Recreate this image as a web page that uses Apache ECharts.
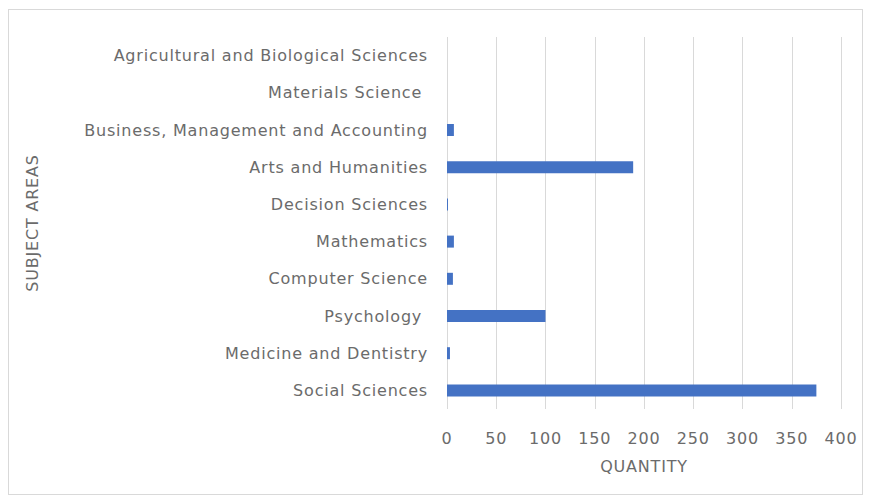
<!DOCTYPE html>
<html>
<head>
<meta charset="utf-8">
<script src="https://cdn.jsdelivr.net/npm/echarts@6/dist/echarts.min.js"></script>
<style>
  html, body { margin: 0; padding: 0; background: #ffffff; }
  #frame { position: absolute; left: 8px; top: 9px; width: 855px; height: 486px; border: 1px solid #d9d9d9; box-sizing: border-box; }
  #chart { position: absolute; left: 0; top: 0; width: 872px; height: 504px; }
  /* slightly open tracking for all axis text */
  #chart svg text { letter-spacing: 0.8px; }
</style>
</head>
<body>
<div id="frame"></div>
<div id="chart"></div>
<script>
// Subject areas, listed bottom to top as drawn on the category axis
const subjectAreas = [
  'Social Sciences',
  'Medicine and Dentistry',
  'Psychology ',
  'Computer Science',
  'Mathematics',
  'Decision Sciences',
  'Arts and Humanities',
  'Business, Management and Accounting',
  'Materials Science ',
  'Agricultural and Biological Sciences'
];
// Number of documents per subject area
const quantities = [375, 3, 100, 6, 7, 1, 189, 7, 0, 0];
const quantityTicks = { min: 0, max: 400, step: 50 };

const chart = echarts.init(document.getElementById('chart'), null, { renderer: 'svg' });
const textColor = '#6b6b6b';
const fontFamily = '"DejaVu Sans", "Open Sans", sans-serif';
const fontSize = 16;

chart.setOption({
  animation: false,
  grid: { left: 447, right: 31, top: 37, bottom: 95, containLabel: false },
  xAxis: {
    type: 'value',
    min: quantityTicks.min,
    max: quantityTicks.max,
    interval: quantityTicks.step,
    name: 'QUANTITY',
    nameLocation: 'middle',
    nameGap: 49,
    nameTextStyle: { color: textColor, fontSize, fontFamily },
    axisLine: { show: false },
    axisTick: { show: false },
    axisLabel: { color: textColor, fontSize, fontFamily, margin: 21 },
    splitLine: { show: true, lineStyle: { color: '#d9d9d9', width: 1 } }
  },
  yAxis: {
    type: 'category',
    data: subjectAreas,
    name: 'SUBJECT AREAS',
    nameLocation: 'middle',
    nameGap: 407,
    nameRotate: 90,
    nameTextStyle: { color: textColor, fontSize, fontFamily },
    axisLine: { show: false },
    axisTick: { show: false },
    axisLabel: { color: textColor, fontSize, fontFamily, margin: 19 },
    splitLine: { show: false }
  },
  series: [{
    type: 'bar',
    data: quantities,
    barWidth: 12,
    itemStyle: { color: '#4472c4' }
  }]
});
</script>
</body>
</html>
